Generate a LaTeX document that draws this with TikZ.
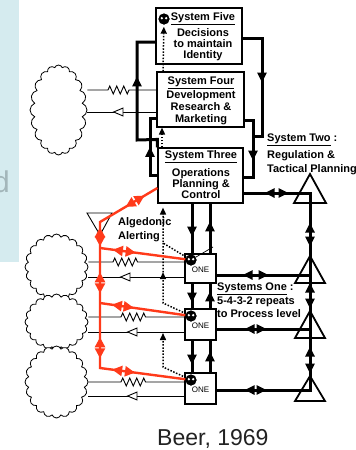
\documentclass[tikz,border=0pt]{standalone}
\usepackage{fontspec}
\setmainfont{Liberation Sans}
\usetikzlibrary{arrows.meta,decorations.markings,decorations.pathmorphing,shapes.symbols}

\definecolor{alarm}{HTML}{FF3A1A}
\definecolor{panel}{HTML}{D5EBEF}
\definecolor{ghost}{HTML}{A3B6BA}
\definecolor{caption}{HTML}{222222}

\tikzset{
  sysbox/.style={draw, line width=1.1pt, fill=white, inner sep=0pt},
  onebox/.style={sysbox, minimum width=31pt},
  systext/.style={align=center, inner sep=0pt, font=\fontsize{11}{11}\selectfont\bfseries},
  sidetext/.style={align=left, anchor=west, inner sep=0pt, font=\fontsize{11}{14}\selectfont\bfseries},
  mainline/.style={draw=black, line width=3pt},
  fine/.style={line width=0.9pt},
  dots/.style={line width=1.5pt, dash pattern=on 1.5pt off 1.6pt},
  alert/.style={draw=alarm, line width=2.4pt},
  regtri/.style={line width=1.8pt, line join=miter},
  zig/.style={decoration={zigzag, segment length=7pt, amplitude=4pt}},
  cloudy/.style={cloud, cloud puffs=20, cloud puff arc=140, cloud ignores aspect, draw, fill=white, line width=0.8pt, inner sep=0pt},
  eye/.style={circle, fill=black, inner sep=0pt, minimum size=11pt,
    path picture={\fill[white] ([xshift=-2.2pt,yshift=0.8pt]path picture bounding box.center) circle (1.3pt)
                               ([xshift=2.2pt,yshift=0.8pt]path picture bounding box.center) circle (1.3pt);}},
  fwd/.style={postaction={decorate, decoration={markings, mark=at position #1 with {\arrow{Triangle[width=9pt,length=10pt]}}}}},
  bwd/.style={postaction={decorate, decoration={markings, mark=at position #1 with {\arrowreversed{Triangle[width=9pt,length=10pt]}}}}},
  rfwd/.style={postaction={decorate, decoration={markings, mark=at position #1 with {\arrow{Triangle[width=10pt,length=10pt]}}}}},
  rbwd/.style={postaction={decorate, decoration={markings, mark=at position #1 with {\arrowreversed{Triangle[width=10pt,length=10pt]}}}}},
  dfwd/.style={postaction={decorate, decoration={markings, mark=at position #1 with {\arrow{Triangle[width=6pt,length=7pt]}}}}},
  hollow/.style={postaction={decorate, decoration={markings, mark=at position #1 with {\arrow{Triangle[width=9pt,length=11pt,fill=white]}}}}},
  dtip/.style={-{Triangle[width=6pt,length=7pt]}},
}

\begin{document}
\begin{tikzpicture}[x=1pt,y=-1pt]
\useasboundingbox (0,0) rectangle (356,450);
\fill[white] (0,0) rectangle (356,450);

% side panel with a clipped letter
\fill[panel] (0,0) rectangle (19,262);
\begin{scope}
  \clip (0,0) rectangle (19,262);
  \node[anchor=base east, inner sep=0pt, font=\fontsize{30}{30}\selectfont, text=ghost] (ghostd) at (10,192) {d};
\end{scope}

% environment clouds
\node[cloudy, minimum width=57pt, minimum height=90pt] (c1) at (58.5,110) {};
\node[cloudy, minimum width=63pt, minimum height=66pt] (c2) at (56.5,267) {};
\node[cloudy, minimum width=63pt, minimum height=56pt] (c3) at (56.5,322) {};
\node[cloudy, minimum width=63pt, minimum height=72pt] (c4) at (56.5,382) {};

% management units
\node[sysbox, minimum width=86pt, minimum height=56pt] (s5) at (199,36) {};
\node[sysbox, minimum width=87pt, minimum height=55pt] (s4) at (200.5,99.5) {};
\node[sysbox, minimum width=85pt, minimum height=55pt] (s3) at (200.5,175.5) {};
\node[onebox, minimum height=29pt] (one1) at (200.5,268.5) {};
\node[onebox, minimum height=31pt] (one2) at (200.5,324.5) {};
\node[onebox, minimum height=31pt] (one3) at (200.5,388.5) {};

% icons
\node[eye] (i5) at (164,19) {};
\node[eye] (i1) at (191,260) {};
\node[eye] (i2) at (191,316) {};
\node[eye] (i3) at (191,380) {};
\coordinate (slash) at (213,247);

% environment links: zigzag in, hollow arrow out
\draw[fine] ([yshift=20pt]c1.east) -- (108,90) decorate[zig] {-- (130,90)} -- ([yshift=9.5pt]s4.west);
\draw[fine, hollow=44pt] ([yshift=-12.5pt]s4.west) -- ([yshift=-2pt]c1.east);
\draw[fine] ([yshift=5pt]c2.east) -- (113,262) decorate[zig] {-- (138,262)} -- ([yshift=6.5pt]one1.west);
\draw[fine, hollow=65pt] ([yshift=-8.5pt]one1.west) -- ([yshift=-10pt]c2.east);
\draw[fine] ([yshift=5pt]c3.east) -- (121,317) decorate[zig] {-- (146,317)} -- ([yshift=7.5pt]one2.west);
\draw[fine, hollow=58pt] ([yshift=-7.5pt]one2.west) -- ([yshift=-10pt]c3.east);
\draw[fine] (c4.east) -- (121,382) decorate[zig] {-- (146,382)} -- ([yshift=6.5pt]one3.west);
\draw[fine, hollow=58pt] ([yshift=-7.5pt]one3.west) -- ([yshift=-14pt]c4.east);

% 3-4-5 loops
\draw[mainline, fwd=92pt] (s3.north west) -- ++(0,-8) -- (137,140) -- (137,42) -- ([yshift=-6pt]s5.west);
\draw[mainline, fwd=36pt] (s3.west) -- (150,175.5) -- (150,118) -- ([yshift=-18.5pt]s4.west);
\draw[mainline, fwd=49pt] ([yshift=-20.5pt]s4.east) -- (253,120) -- (253,177) -- ([yshift=-1.5pt]s3.east);
\draw[mainline, fwd=64pt] ([yshift=-2pt]s5.east) -- (262,38) -- (262,136) -- (253,136);

% regulatory channel (System Two)
\draw[mainline, bwd=21pt, fwd=45pt, bwd=96pt, fwd=120pt, bwd=156pt, fwd=182pt, bwd=220pt, fwd=247pt]
  ([yshift=-17.5pt]s3.east) -- (310,193) -- (310,392);
\draw[mainline, bwd=26pt, fwd=52pt] ([yshift=-6.5pt]one1.east) -- (310,275);
\draw[mainline, bwd=28pt, fwd=50pt] ([yshift=-4.5pt]one2.east) -- (310,329);
\draw[mainline, bwd=28pt, fwd=50pt] ([yshift=-1.5pt]one3.east) -- (310,390);
\draw[regtri] (310,174) -- (326,203) -- (294,203) -- cycle;
\draw[regtri] (310,256) -- (325,283) -- (295,283) -- cycle;
\draw[regtri] (310,311) -- (325,338) -- (295,338) -- cycle;
\draw[regtri] (310,376) -- (325,401) -- (295,401) -- cycle;

% command channels
\draw[mainline, fwd=33pt] ([xshift=-8.5pt]s3.south) -- ([xshift=-8.5pt]one1.north);
\draw[mainline, fwd=32pt] ([xshift=9.5pt]one1.north) -- ([xshift=9.5pt]s3.south);
\draw[mainline, fwd=19pt] ([xshift=-8.5pt]one1.south) -- ([xshift=-8.5pt]one2.north);
\draw[mainline, fwd=17pt] ([xshift=9.5pt]one2.north) -- ([xshift=9.5pt]one1.south);
\draw[mainline, fwd=24pt] ([xshift=-8.5pt]one2.south) -- ([xshift=-8.5pt]one3.north);
\draw[mainline, fwd=21pt] ([xshift=9.5pt]one3.north) -- ([xshift=9.5pt]one2.south);

% texts
\node[systext] (t5) at (203,37) {\underline{System Five}\\[3pt]Decisions\\to maintain\\Identity};
\node[systext, font=\fontsize{11}{12}\selectfont\bfseries] (t4) at (201,100.5) {\underline{System Four}\\[1pt]Development\\Research \&\\Marketing};
\node[systext] (t3) at (201,174.5) {\underline{System Three}\\[4pt]Operations\\Planning \&\\Control};
\node[sidetext] (two) at (267,154.5) {\underline{System Two} :\\[3pt]Regulation \&\\Tactical Planning};
\node[sidetext] (alg) at (118,230) {Algedonic\\Alerting};
\node[sidetext, font=\fontsize{11}{13.5}\selectfont\bfseries] (ones) at (217,300.5) {\underline{Systems One} :\\5-4-3-2 repeats\\to Process level};
\foreach \b/\y in {one1/270, one2/325.5, one3/389.5}
  \node[inner sep=0pt, font=\fontsize{8}{8}\selectfont] (\b-txt) at (200.5,\y) {ONE};
\node[anchor=base west, inner sep=0pt, font=\fontsize{23}{23}\selectfont, text=caption] (cap) at (157,445) {Beer, 1969};

% audit (dotted) channels
\draw[dots, dtip] ([xshift=-38.5pt]s3.north) -- ([xshift=-38.5pt]s4.south);
\draw[dots, dtip, shorten >=2pt] ([xshift=-37.5pt]s4.north) -- (i5);
\draw[dots, dtip, shorten >=4pt] (i1) -- (163,243) -- ([xshift=-37.5pt]s3.south);
\draw[dots, dfwd=56pt] (i2) -- (163,303) -- (163,243);
\draw[dots, dtip] (i3) -- (163,367) -- (163,333);
\draw[line width=0.7pt] (i1) -- (slash);

% algedonic alerting
\draw[fine] (87,213) -- (112,213) -- (100,235) -- cycle;
\coordinate (b1) at (100,248);
\coordinate (b2) at (100,303);
\draw[alert, rbwd=15pt, rfwd=37pt, rbwd=72pt, rfwd=91pt, rbwd=117pt, rfwd=138pt, rbwd=182pt, rfwd=203pt, rbwd=225pt, rfwd=248pt]
  ([yshift=-12.5pt]s3.west) -- (100,222) -- (100,368) -- (i3);
\draw[alert, rbwd=13pt, rfwd=36pt] (b1) -- (i1);
\draw[alert, rbwd=12pt, rfwd=34pt] (b2) -- (i2);

% icons on top
\node[eye] at (i5) {};
\node[eye] at (i1) {};
\node[eye] at (i2) {};
\node[eye] at (i3) {};
\end{tikzpicture}
\end{document}
